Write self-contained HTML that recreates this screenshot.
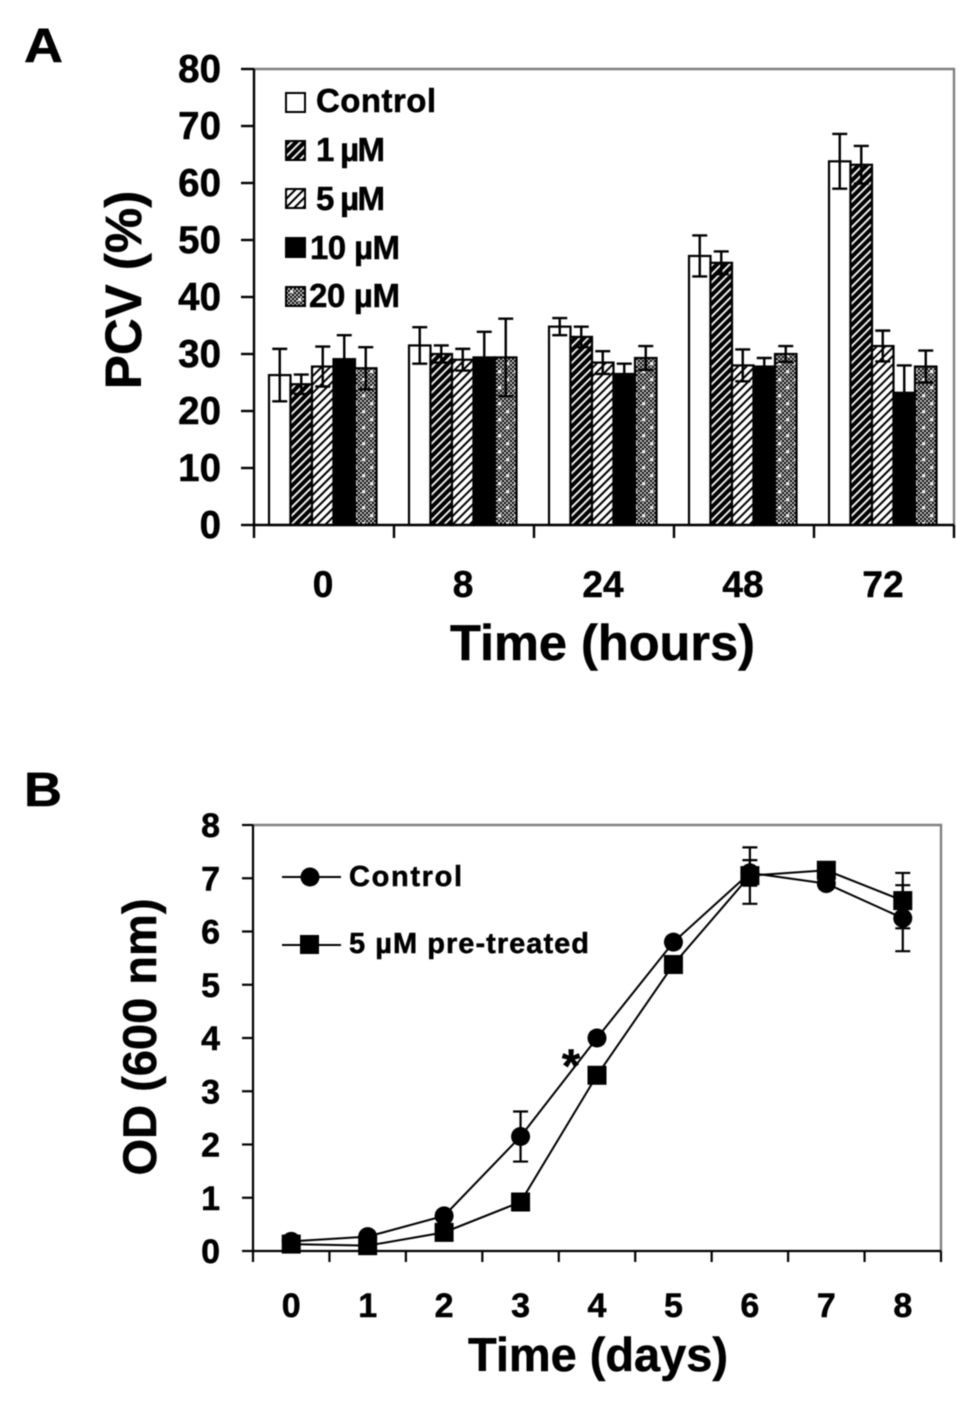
<!DOCTYPE html>
<html lang="en">
<head>
<meta charset="utf-8">
<title>PCV and OD charts</title>
<style>
html,body{margin:0;padding:0;background:#fff;}
svg{display:block;filter:blur(0.45px);}
text{font-family:"Liberation Sans",sans-serif;font-weight:bold;fill:#000;stroke:#000;stroke-width:0.5px;}
</style>
</head>
<body>
<svg id="fig" xmlns="http://www.w3.org/2000/svg" width="980" height="1408" viewBox="0 0 980 1408">
  <defs>
    <pattern id="p1" patternUnits="userSpaceOnUse" width="6" height="6" patternTransform="rotate(-45)">
      <rect width="6" height="6" fill="#000"/><rect x="0" y="0" width="6" height="1.8" fill="#fff"/>
    </pattern>
    <pattern id="p5" patternUnits="userSpaceOnUse" width="6" height="6" patternTransform="rotate(-45)">
      <rect width="6" height="6" fill="#fff"/><rect x="0" y="0" width="6" height="2" fill="#000"/>
    </pattern>
    <pattern id="p20" patternUnits="userSpaceOnUse" width="16" height="16">
      <rect width="16" height="16" fill="#000"/>
      <g fill="#c8c8c8">
        <rect x="0" y="0" width="2" height="2"/><rect x="4" y="0" width="2" height="2"/><rect x="8" y="0" width="2" height="2"/><rect x="12" y="0" width="2" height="2"/>
        <rect x="2" y="2" width="2" height="2"/><rect x="6" y="2" width="2" height="2"/><rect x="10" y="2" width="2" height="2"/><rect x="14" y="2" width="2" height="2"/>
        <rect x="0" y="4" width="2" height="2"/><rect x="4" y="4" width="2" height="2"/><rect x="8" y="4" width="2" height="2"/><rect x="12" y="4" width="2" height="2"/>
        <rect x="2" y="6" width="2" height="2"/><rect x="6" y="6" width="2" height="2"/><rect x="10" y="6" width="2" height="2"/><rect x="14" y="6" width="2" height="2"/>
        <rect x="0" y="8" width="2" height="2"/><rect x="4" y="8" width="2" height="2"/><rect x="8" y="8" width="2" height="2"/><rect x="12" y="8" width="2" height="2"/>
        <rect x="2" y="10" width="2" height="2"/><rect x="6" y="10" width="2" height="2"/><rect x="10" y="10" width="2" height="2"/><rect x="14" y="10" width="2" height="2"/>
        <rect x="0" y="12" width="2" height="2"/><rect x="4" y="12" width="2" height="2"/><rect x="8" y="12" width="2" height="2"/><rect x="12" y="12" width="2" height="2"/>
        <rect x="2" y="14" width="2" height="2"/><rect x="6" y="14" width="2" height="2"/><rect x="10" y="14" width="2" height="2"/><rect x="14" y="14" width="2" height="2"/>
      </g>
      <rect x="2" y="2" width="3" height="3" fill="#fff"/><rect x="10" y="10" width="3" height="3" fill="#fff"/>
    </pattern>
  </defs>

  <text x="24" y="62" font-size="48" textLength="39" lengthAdjust="spacingAndGlyphs">A</text>
  <text x="24" y="806" font-size="48" textLength="38" lengthAdjust="spacingAndGlyphs">B</text>

  <g id="chartA"></g>

  <text transform="translate(141,290) rotate(-90)" text-anchor="middle" font-size="51">PCV (%)</text>
  <text x="450" y="660" font-size="50" textLength="305" lengthAdjust="spacingAndGlyphs">Time (hours)</text>

  <g>
    <g>
      <rect x="286" y="93" width="19" height="19" fill="#fff" stroke="#000" stroke-width="2"/>
      <text x="316" y="112" font-size="33" textLength="120">Control</text>
    </g>
    <g>
      <rect x="286" y="141" width="19" height="19" fill="url(#p1)" stroke="#000" stroke-width="2"/>
      <text x="316" y="161" font-size="33" textLength="69">1 µM</text>
    </g>
    <g>
      <rect x="286" y="189" width="19" height="19" fill="url(#p5)" stroke="#000" stroke-width="2"/>
      <text x="316" y="210" font-size="33" textLength="69">5 µM</text>
    </g>
    <g>
      <rect x="286" y="238" width="19" height="19" fill="#000" stroke="#000" stroke-width="2"/>
      <text x="310" y="259" font-size="33" textLength="90">10 µM</text>
    </g>
    <g>
      <rect x="286" y="287" width="19" height="19" fill="url(#p20)" stroke="#000" stroke-width="2"/>
      <text x="309" y="307" font-size="33" textLength="91">20 µM</text>
    </g>
  </g>

  <g id="chartB"></g>

  <text transform="translate(156,1037) rotate(-90)" text-anchor="middle" font-size="47" textLength="277" lengthAdjust="spacingAndGlyphs">OD (600 nm)</text>
  <text x="468" y="1371" font-size="47" textLength="260" lengthAdjust="spacingAndGlyphs">Time (days)</text>
  <text x="571" y="1082" text-anchor="middle" font-size="47">*</text>

  <g>
    <g>
      <line x1="282" y1="877" x2="341" y2="877" stroke="#000" stroke-width="2"/>
      <circle cx="310" cy="877" r="9.5" fill="#000"/>
      <text x="349" y="886" font-size="29" textLength="113">Control</text>
    </g>
    <g>
      <line x1="282" y1="945" x2="341" y2="945" stroke="#000" stroke-width="2"/>
      <rect x="300" y="935" width="19" height="19" fill="#000"/>
      <text x="349" y="953" font-size="29" textLength="240">5 µM pre-treated</text>
    </g>
  </g>
</svg>

<script>
// ---- Panel A data ----
const hourLabels = ["0", "8", "24", "48", "72"];
const pcvTickLabels = [0, 10, 20, 30, 40, 50, 60, 70, 80];
const seriesNames = ["control", "1um", "5um", "10um", "20um"];
const pcvControl = [26.3, 31.5, 34.8, 47.2, 63.8];
const pcv1uM = [24.7, 30.0, 33.0, 46.0, 63.2];
const pcv5uM = [27.8, 29.0, 28.5, 28.0, 31.4];
const pcv10uM = [29.1, 29.4, 26.5, 27.8, 23.2];
const pcv20uM = [27.5, 29.4, 29.3, 30.0, 27.8];
const errControl = [4.6, 3.2, 1.5, 3.6, 4.8];
const err1uM = [1.7, 1.5, 1.8, 2.0, 3.3];
const err5uM = [3.5, 1.9, 2.0, 2.8, 2.7];
const err10uM = [4.2, 4.5, 1.8, 1.5, 4.8];
const err20uM = [3.7, 6.8, 2.1, 1.4, 2.8];

// ---- Panel B data ----
const dayLabels = ["0", "1", "2", "3", "4", "5", "6", "7", "8"];
const odTickLabels = [0, 1, 2, 3, 4, 5, 6, 7, 8];
const odControl = [0.18, 0.27, 0.66, 2.15, 4.0, 5.8, 7.1, 6.9, 6.25];
const odPretreated = [0.13, 0.1, 0.35, 0.92, 3.3, 5.38, 7.05, 7.15, 6.58];
const odControlErr = [0.05, 0.05, 0.08, 0.47, 0.1, 0.1, 0.24, 0.1, 0.62];
const odPretreatedErr = [0.05, 0.05, 0.08, 0.1, 0.1, 0.1, 0.53, 0.1, 0.52];

const NS = "http://www.w3.org/2000/svg";
function mk(parent, tag, attrs) {
  const el = document.createElementNS(NS, tag);
  for (const k in attrs) el.setAttribute(k, attrs[k]);
  parent.appendChild(el);
  return el;
}

// ---- Panel A ----
const A = { left: 254, right: 954, top: 69, bottom: 525, max: 80, barW: 21.5, groupInset: 15 };
const aSeries = [pcvControl, pcv1uM, pcv5uM, pcv10uM, pcv20uM];
const aErrors = [errControl, err1uM, err5uM, err10uM, err20uM];
const aFills = ["#fff", "url(#p1)", "url(#p5)", "#000", "url(#p20)"];
function yA(v) { return A.bottom - v / A.max * (A.bottom - A.top); }
function bandA(i) { return A.left + i * (A.right - A.left) / hourLabels.length; }
function xA(i, s) { return bandA(i) + A.groupInset + s * A.barW; }

const gA = document.getElementById("chartA");
const frameA = mk(gA, "path", { d: "M" + A.left + " " + A.top + "H" + A.right + "V" + A.bottom, fill: "none", stroke: "#808080", "stroke-width": 2.4 });



aSeries.forEach(function (vals, s) {
  vals.forEach(function (v, i) {
    const bar = mk(gA, "rect", { x: xA(i, s), y: yA(v), width: A.barW, height: A.bottom - yA(v), fill: aFills[s], stroke: "#000", "stroke-width": 2.2 });
    
    
  });
});
aSeries.forEach(function (vals, s) {
  vals.forEach(function (v, i) {
    const cx = xA(i, s) + A.barW / 2, e = aErrors[s][i];
    const err = mk(gA, "path", {
      d: "M" + cx + " " + yA(v + e) + "V" + yA(v - e) +
         "M" + (cx - 7.5) + " " + yA(v + e) + "h15" +
         "M" + (cx - 7.5) + " " + yA(v - e) + "h15",
      fill: "none", stroke: "#000", "stroke-width": 2.4
    });
    
    
  });
});

const axisAY = mk(gA, "line", { x1: A.left, y1: A.top, x2: A.left, y2: A.bottom, stroke: "#000", "stroke-width": 2.4 });


const axisAX = mk(gA, "line", { x1: A.left, y1: A.bottom, x2: A.right, y2: A.bottom, stroke: "#000", "stroke-width": 2.4 });



pcvTickLabels.forEach(function (t) {
  const tick = mk(gA, "line", { x1: A.left - 13, y1: yA(t), x2: A.left, y2: yA(t), stroke: "#000", "stroke-width": 2.4 });
  
  
  const lab = mk(gA, "text", { x: 221, y: yA(t) + 13, "text-anchor": "end", "font-size": 38.5 });
  lab.textContent = t;
  
  
});
for (let i = 0; i <= hourLabels.length; i++) {
  const tick = mk(gA, "line", { x1: bandA(i), y1: A.bottom, x2: bandA(i), y2: A.bottom + 13, stroke: "#000", "stroke-width": 2.4 });
  
  
}
hourLabels.forEach(function (t, i) {
  const lab = mk(gA, "text", { x: bandA(i) + 69, y: 597, "text-anchor": "middle", "font-size": 37 });
  lab.textContent = t;
  
  
});

// ---- Panel B ----
const B = { left: 253, right: 941, top: 825, bottom: 1251, max: 8 };
function yB(v) { return B.bottom - v / B.max * (B.bottom - B.top); }
function bandB(i) { return B.left + i * (B.right - B.left) / dayLabels.length; }
function xB(i) { return bandB(i + 0.5); }

const gB = document.getElementById("chartB");
const frameB = mk(gB, "path", { d: "M" + B.left + " " + B.top + "H" + B.right + "V" + B.bottom, fill: "none", stroke: "#808080", "stroke-width": 2.4 });



const axisBY = mk(gB, "line", { x1: B.left, y1: B.top, x2: B.left, y2: B.bottom, stroke: "#000", "stroke-width": 2.2 });


const axisBX = mk(gB, "line", { x1: B.left, y1: B.bottom, x2: B.right, y2: B.bottom, stroke: "#000", "stroke-width": 2.2 });



odTickLabels.forEach(function (t) {
  const tick = mk(gB, "line", { x1: B.left - 11, y1: yB(t), x2: B.left, y2: yB(t), stroke: "#000", "stroke-width": 2.2 });
  
  
  const lab = mk(gB, "text", { x: 220, y: yB(t) + 12, "text-anchor": "end", "font-size": 34 });
  lab.textContent = t;
  
  
});
for (let i = 0; i <= dayLabels.length; i++) {
  const tick = mk(gB, "line", { x1: bandB(i), y1: B.bottom, x2: bandB(i), y2: B.bottom + 11, stroke: "#000", "stroke-width": 2.2 });
  
  
}
dayLabels.forEach(function (t, i) {
  const lab = mk(gB, "text", { x: xB(i), y: 1317, "text-anchor": "middle", "font-size": 34 });
  lab.textContent = t;
  
  
});

function linePoints(vals) {
  return vals.map(function (v, i) { return xB(i) + "," + yB(v); }).join(" ");
}
function drawErrors(vals, errs, name) {
  vals.forEach(function (v, i) {
    const cx = xB(i), e = errs[i];
    const err = mk(gB, "path", {
      d: "M" + cx + " " + yB(v + e) + "V" + yB(v - e) +
         "M" + (cx - 7.5) + " " + yB(v + e) + "h15" +
         "M" + (cx - 7.5) + " " + yB(v - e) + "h15",
      fill: "none", stroke: "#000", "stroke-width": 2.2
    });
    
    
  });
}
drawErrors(odControl, odControlErr, 'control');
drawErrors(odPretreated, odPretreatedErr, 'pretreated');

const lineControl = mk(gB, "polyline", { points: linePoints(odControl), fill: "none", stroke: "#000", "stroke-width": 2 });


const linePre = mk(gB, "polyline", { points: linePoints(odPretreated), fill: "none", stroke: "#000", "stroke-width": 2 });



odControl.forEach(function (v, i) {
  const c = mk(gB, "circle", { cx: xB(i), cy: yB(v), r: 9.5, fill: "#000" });
  
  
});
odPretreated.forEach(function (v, i) {
  const r = mk(gB, "rect", { x: xB(i) - 9.5, y: yB(v) - 9.5, width: 19, height: 19, fill: "#000" });
  
  
});
</script>
</body>
</html>
